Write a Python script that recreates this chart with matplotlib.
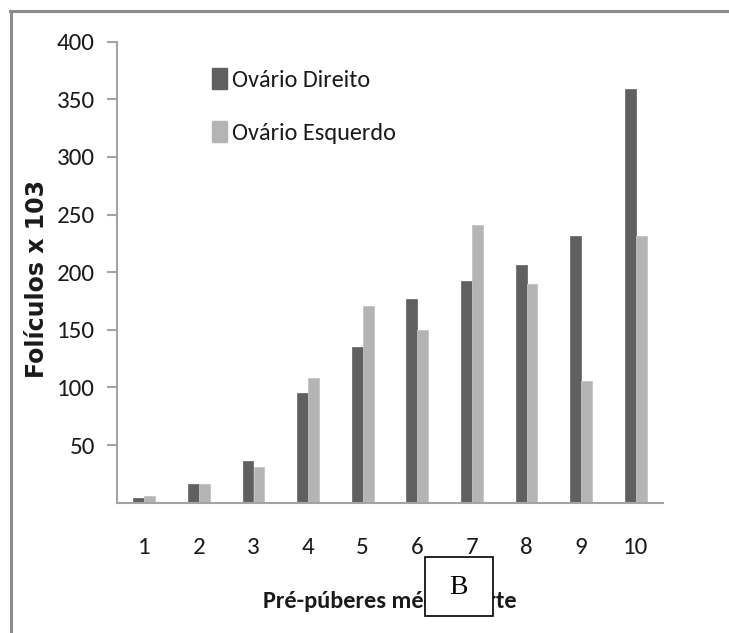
import matplotlib
matplotlib.use("Agg")
import matplotlib.pyplot as plt
from matplotlib.patches import Rectangle, Patch
from matplotlib.lines import Line2D
import numpy as np

categories = ["1", "2", "3", "4", "5", "6", "7", "8", "9", "10"]
direito = [4, 16, 36, 95, 135, 177, 192, 206, 231, 359]
esquerdo = [6, 16, 31, 108, 171, 150, 241, 190, 106, 231]
series_names = ["Ovário Direito", "Ovário Esquerdo"]
yticks = [50, 100, 150, 200, 250, 300, 350, 400]

plt.rcParams["font.family"] = ["Carlito", "DejaVu Sans"]

dark = "#606060"
light = "#b4b4b4"
axis_c = "#a3a3a3"
frame_c = "#8c8c8c"

W, H = 729, 633
fig = plt.figure(figsize=(W/100, H/100), dpi=100)
ax = fig.add_axes([117/W, 1-502.7/H, (663-117)/W, (502.7-41.7)/H])

x = np.arange(len(categories))
w = 0.2
ax.bar(x - w/2, direito, w, color=dark, edgecolor="#6e6e6e", linewidth=0.6)
ax.bar(x + w/2, esquerdo, w, color=light, edgecolor="#c4c4c4", linewidth=0.6)

ax.set_xlim(-0.5, 9.5)
ax.set_ylim(0, 400)
ax.set_yticks(yticks)
ax.set_yticklabels([str(v) for v in yticks], fontsize=18, color="#1a1a1a")
ax.set_xticks(x)
ax.set_xticklabels(categories, fontsize=18, color="#1a1a1a")
ax.tick_params(axis="y", direction="out", length=7, width=1.5, color=axis_c, pad=9)
ax.tick_params(axis="x", length=0, pad=25)
for s in ["top", "right"]:
    ax.spines[s].set_visible(False)
for s in ["left", "bottom"]:
    ax.spines[s].set_color(axis_c)
    ax.spines[s].set_linewidth(1.5)

fig.text(390/W, 1-601/H, "Pré-púberes médio porte", fontsize=17.5, fontweight="bold",
         ha="center", va="center", color="#1a1a1a")
fig.text(37/W, 1-279/H, "Folículos x 103", rotation=90, fontsize=17, fontweight="bold",
         ha="center", va="center", family=["DejaVu Sans"], color="#1a1a1a")

handles = [Patch(facecolor=dark, edgecolor=dark), Patch(facecolor=light, edgecolor=light)]
leg = ax.legend(handles, series_names, loc="upper left",
                bbox_to_anchor=((212-117)/(663-117), (502.7-68)/(502.7-41.7)),
                frameon=False, fontsize=17.5, handlelength=0.62, handleheight=0.95,
                handletextpad=0.2, labelspacing=1.25, borderaxespad=0, borderpad=0)
for t in leg.get_texts():
    t.set_color("#1a1a1a")

# frame lines of the picture
fig.add_artist(Line2D([9.5/W, 1.0], [1-11/H, 1-11/H], color=frame_c, linewidth=2.2,
                      transform=fig.transFigure))
fig.add_artist(Line2D([11.5/W, 11.5/W], [0, 1-11/H], color=frame_c, linewidth=2.2,
                      transform=fig.transFigure))

# Box "B"
bx0, bx1, by0, by1 = 425/W, 492.5/W, 1-615.7/H, 1-557.3/H
fig.add_artist(Rectangle((bx0, by0), bx1-bx0, by1-by0, transform=fig.transFigure,
                         facecolor="white", edgecolor="black", linewidth=1.2, zorder=10))
fig.text((bx0+bx1)/2, 1-587/H, "B", fontsize=20, family=["Liberation Serif", "DejaVu Serif"],
         ha="center", va="center", zorder=11)

fig.savefig("out.png", dpi=100)
